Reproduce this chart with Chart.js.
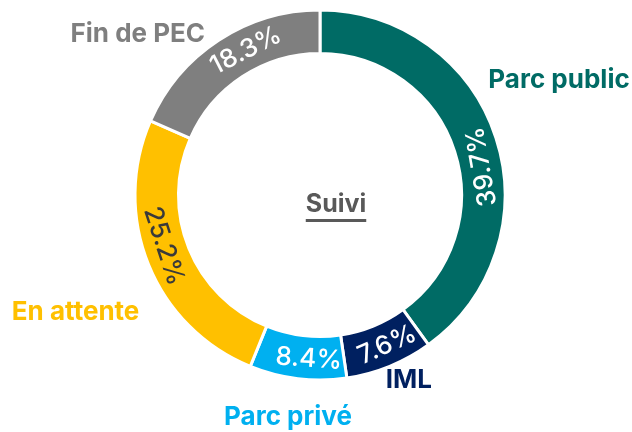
<!DOCTYPE html>
<html>
<head>
<meta charset="utf-8">
<script src="https://cdn.jsdelivr.net/npm/chart.js@4/dist/chart.umd.min.js"></script>
<style>
  html, body { margin: 0; padding: 0; background: #fff; }
</style>
</head>
<body>
<canvas id="suiviChart" width="632" height="432"></canvas>
<script>
const categories = ['Parc public', 'IML', 'Parc privé', 'En attente', 'Fin de PEC'];
const shares = [39.7, 7.6, 8.4, 25.2, 18.3];
const centerTitle = 'Suivi';

const sliceColors = ['#006b65', '#002060', '#00b0f0', '#ffc000', '#7f7f7f'];
const pctColors = ['#ffffff', '#ffffff', '#ffffff', '#3a3a3a', '#ffffff'];
// small slides along the ring for the percentage labels (degrees)
const pctAngleShift = [8, -2, -3, 4, 6];
// category names sit outside the ring, moved from the radial anchor
const nameNudge = [[25, -45], [4, -23], [-5, -1], [-36, 32], [-59, 27]];

const FONT = 'Inter, "Open Sans", sans-serif';

const ringLabels = {
  id: 'ringLabels',
  afterDatasetsDraw(chart) {
    const ctx = chart.ctx;
    const arcs = chart.getDatasetMeta(0).data;
    let cx = 0, cy = 0;
    ctx.save();
    ctx.textAlign = 'center';
    ctx.textBaseline = 'middle';
    arcs.forEach((arc, i) => {
      const p = arc.getProps(['x', 'y', 'startAngle', 'endAngle', 'innerRadius', 'outerRadius'], true);
      cx = p.x; cy = p.y;
      const mid = (p.startAngle + p.endAngle) / 2;

      // percentage inside the ring, turned along the tangent
      const a = mid + pctAngleShift[i] * Math.PI / 180;
      const r = (p.innerRadius + p.outerRadius) / 2;
      let rot = (a + Math.PI / 2) * 180 / Math.PI;
      while (rot >= 75) rot -= 180;
      while (rot < -105) rot += 180;
      ctx.save();
      ctx.translate(p.x + Math.cos(a) * r, p.y + Math.sin(a) * r);
      ctx.rotate(rot * Math.PI / 180);
      ctx.fillStyle = pctColors[i];
      ctx.font = '500 26px ' + FONT;
      ctx.fillText(shares[i].toFixed(1) + '%', 0, 1);
      ctx.restore();

      // category name outside
      const ro = p.outerRadius + 40;
      ctx.fillStyle = sliceColors[i];
      ctx.font = '700 26px ' + FONT;
      ctx.fillText(categories[i],
        p.x + Math.cos(mid) * ro + nameNudge[i][0],
        p.y + Math.sin(mid) * ro + nameNudge[i][1]);
    });

    // underlined title in the hole
    ctx.fillStyle = '#595959';
    ctx.font = '700 25px ' + FONT;
    ctx.textBaseline = 'alphabetic';
    const tx = cx + 16, base = cy + 17;
    ctx.fillText(centerTitle, tx, base);
    const w = ctx.measureText(centerTitle).width;
    ctx.fillRect(tx - w / 2, base + 7, w, 3);
    ctx.restore();
  }
};

new Chart(document.getElementById('suiviChart'), {
  type: 'doughnut',
  data: {
    labels: categories,
    datasets: [{
      data: shares,
      backgroundColor: sliceColors,
      borderColor: '#ffffff',
      borderWidth: 3
    }]
  },
  options: {
    responsive: false,
    animation: false,
    radius: 185,
    cutout: '76.5%',
    layout: { padding: { left: 8, right: 0, top: 0, bottom: 42 } },
    plugins: {
      legend: { display: false },
      tooltip: { enabled: false }
    }
  },
  plugins: [ringLabels]
});
</script>
</body>
</html>
